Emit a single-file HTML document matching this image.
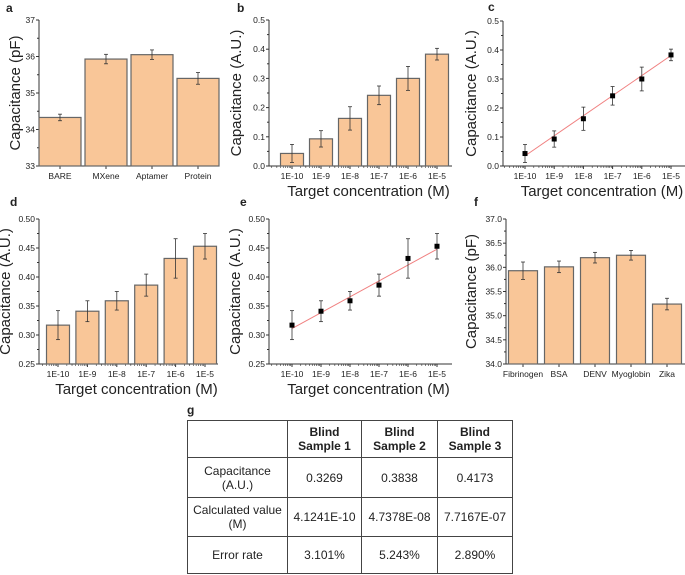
<!DOCTYPE html>
<html><head><meta charset="utf-8">
<style>
body{margin:0;background:#fff;width:685px;height:575px;overflow:hidden;position:relative;font-family:"Liberation Sans",Arial,sans-serif}
svg{position:absolute;left:0;top:0}
table{position:absolute;left:187px;top:420px;border-collapse:collapse;font-family:"Liberation Sans",Arial,sans-serif;font-size:12px;color:#222}
td{border:1px solid #444;text-align:center;padding:0;line-height:14px}
</style></head><body>
<svg id="fig" width="685" height="575" viewBox="0 0 685 575"></svg>
<table>
<tr style="height:37px"><td style="width:99px"></td><td style="width:73px"><b>Blind<br>Sample 1</b></td><td style="width:75px"><b>Blind<br>Sample 2</b></td><td style="width:74px"><b>Blind<br>Sample 3</b></td></tr>
<tr style="height:40px"><td>Capacitance<br>(A.U.)</td><td>0.3269</td><td>0.3838</td><td>0.4173</td></tr>
<tr style="height:39px"><td>Calculated value<br>(M)</td><td>4.1241E-10</td><td>4.7378E-08</td><td>7.7167E-07</td></tr>
<tr style="height:37px"><td>Error rate</td><td>3.101%</td><td>5.243%</td><td>2.890%</td></tr>
</table>
<script>
const concCats = ["1E-10","1E-9","1E-8","1E-7","1E-6","1E-5"];
const aCats = ["BARE","MXene","Aptamer","Protein"];
const aVals = [34.33,35.93,36.05,35.40];
const aErr = [0.09,0.13,0.13,0.16];
const aTicks = ["33","34","35","36","37"];
const bVals = [0.043,0.093,0.163,0.242,0.300,0.383];
const bErr = [0.031,0.028,0.040,0.032,0.041,0.020];
const bTicks = ["0.0","0.1","0.2","0.3","0.4","0.5"];
const cFit = [0.035,0.381];
const dVals = [0.317,0.341,0.359,0.386,0.432,0.453];
const dErr = [0.025,0.018,0.016,0.019,0.034,0.022];
const dTicks = ["0.25","0.30","0.35","0.40","0.45","0.50"];
const eFit = [0.311,0.448];
const fCats = ["Fibrinogen","BSA","DENV","Myoglobin","Zika"];
const fVals = [35.93,36.01,36.20,36.25,35.24];
const fErr = [0.18,0.12,0.11,0.10,0.12];
const fTicks = ["34.0","34.5","35.0","35.5","36.0","36.5","37.0"];

const svg = document.getElementById('fig');
const NS = 'http://www.w3.org/2000/svg';
function mk(tag, at, parent){const e=document.createElementNS(NS,tag);for(const k in at)e.setAttribute(k,at[k]);(parent||svg).appendChild(e);return e;}
function txt(s,x,y,size,anchor,extra){const t=mk('text',Object.assign({x:x,y:y,'font-size':size,'text-anchor':anchor||'middle',fill:'#222'},extra||{}));t.textContent=s;return t;}

function panel(o){
  const g=mk('g',{});
  
  
  const ys=v=>o.y1-(v-o.vmin)/(o.vmax-o.vmin)*(o.y1-o.y0);
  const xs=i=>o.cx0+o.dx*i;
  // axes
  mk('line',{x1:o.ax,y1:o.y0,x2:o.ax,y2:o.y1,stroke:'#333','stroke-width':1},g);
  mk('line',{x1:o.ax,y1:o.y1,x2:o.axEnd,y2:o.y1,stroke:'#333','stroke-width':1},g);
  const n=o.ticks.length;
  for(let i=0;i<n;i++){
    const v=o.vmin+(o.vmax-o.vmin)*i/(n-1), y=ys(v);
    mk('line',{x1:o.ax-3,y1:y,x2:o.ax,y2:y,stroke:'#333'},g);
    if(i<n-1){const ym=ys(v+(o.vmax-o.vmin)/(n-1)/2);mk('line',{x1:o.ax-2,y1:ym,x2:o.ax,y2:ym,stroke:'#333'},g);}
    const t=txt(o.ticks[i],o.ax-4,y+3,8.5,'end');
    
  }
  // x ticks
  for(let i=0;i<o.cats.length;i++){
    mk('line',{x1:xs(i),y1:o.y1,x2:xs(i),y2:o.y1+3,stroke:'#333'},g);
    if(o.log){
      for(let k=2;k<10;k++){const xm=xs(i-1)+o.dx*Math.log10(k);if(xm>o.ax)mk('line',{x1:xm,y1:o.y1,x2:xm,y2:o.y1+2,stroke:'#333','stroke-width':0.6},g);}
    }
    const t=txt(o.cats[i],xs(i),o.y1+13,8.5,'middle');
    
  }
  // fit line
  if(o.fit){
    const l=mk('line',{x1:xs(0),y1:ys(o.fit[0]),x2:xs(o.cats.length-1),y2:ys(o.fit[1]),stroke:'#f08080','stroke-width':1},g);
    
  }
  for(let i=0;i<o.vals.length;i++){
    const v=o.vals[i], e=o.err[i], x=xs(i);
    if(o.bars){
      const r=mk('rect',{x:x-o.bw/2,y:ys(v),width:o.bw,height:o.y1-ys(v),fill:'#f9c698',stroke:'#666','stroke-width':1.2},g);
      
    }
    mk('line',{x1:x,y1:ys(v+e),x2:x,y2:ys(v-e),stroke:'#333','stroke-width':0.8},g);
    mk('line',{x1:x-2,y1:ys(v+e),x2:x+2,y2:ys(v+e),stroke:'#333','stroke-width':0.8},g);
    mk('line',{x1:x-2,y1:ys(v-e),x2:x+2,y2:ys(v-e),stroke:'#333','stroke-width':0.8},g);
    if(!o.bars){
      const p=mk('rect',{x:x-2.5,y:ys(v)-2.5,width:5,height:5,fill:'#000'},g);
      
    }
  }
  const yt=txt(o.ytitle,0,0,15,'middle',{transform:`translate(${o.ytx},${(o.y0+o.y1)/2}) rotate(-90)`});
  
  if(o.xtitle){const xt=txt(o.xtitle,(o.ax+o.axEnd)/2+8,o.y1+30,15,'middle');}
  const lb=txt(o.id,o.lx,o.ly,12,'start',{'font-weight':'bold'});
  
}
panel({id:'a',ax:39,axEnd:216,y0:20,y1:166,vmin:33,vmax:37,ticks:aTicks,cats:aCats,vals:aVals,err:aErr,cx0:60,dx:46,bars:true,bw:42,ytitle:'Capacitance (pF)',ytx:20,lx:6,ly:12});
panel({id:'b',ax:269,axEnd:452,y0:20,y1:166,vmin:0,vmax:0.5,ticks:bTicks,cats:concCats,vals:bVals,err:bErr,cx0:292,dx:29,bars:true,bw:23,log:true,ytitle:'Capacitance (A.U.)',ytx:241,xtitle:'Target concentration (M)',lx:237,ly:12});
panel({id:'c',ax:503,axEnd:685,y0:21,y1:166,vmin:0,vmax:0.5,ticks:bTicks,cats:concCats,vals:bVals,err:bErr,cx0:525,dx:29.2,bars:false,log:true,fit:cFit,ytitle:'Capacitance (A.U.)',ytx:476,xtitle:'Target concentration (M)',lx:488,ly:11});
panel({id:'d',ax:39,axEnd:218,y0:219,y1:364,vmin:0.25,vmax:0.5,ticks:dTicks,cats:concCats,vals:dVals,err:dErr,cx0:58,dx:29.4,bars:true,bw:23,log:true,ytitle:'Capacitance (A.U.)',ytx:10,xtitle:'Target concentration (M)',lx:10,ly:206});
panel({id:'e',ax:269,axEnd:452,y0:219,y1:364,vmin:0.25,vmax:0.5,ticks:dTicks,cats:concCats,vals:dVals,err:dErr,cx0:292,dx:29,bars:false,log:true,fit:eFit,ytitle:'Capacitance (A.U.)',ytx:240,xtitle:'Target concentration (M)',lx:240,ly:206});
panel({id:'f',ax:506,axEnd:685,y0:219,y1:364,vmin:34,vmax:37,ticks:fTicks,cats:fCats,vals:fVals,err:fErr,cx0:523,dx:36,bars:true,bw:29,ytitle:'Capacitance (pF)',ytx:476,lx:474,ly:206});
const gl=txt('g',187,414,12,'start',{'font-weight':'bold'});

</script>
</body></html>
